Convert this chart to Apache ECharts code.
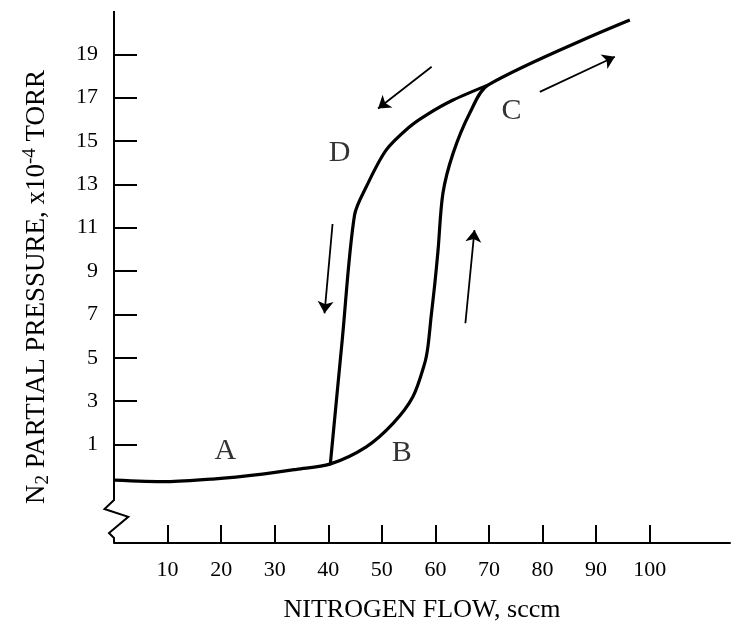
<!DOCTYPE html>
<html>
<head>
<meta charset="utf-8">
<title>N2 partial pressure vs nitrogen flow</title>
<script src="https://cdn.jsdelivr.net/npm/echarts@6/dist/echarts.min.js"></script>
<style>
  html, body { margin: 0; padding: 0; background: #fff; }
  #chart { width: 732px; height: 634px; }
</style>
</head>
<body>
<div id="chart"></div>
<script>
// ===== data (flow in sccm, pressure in 1e-4 torr) =====
var xTicks = [10, 20, 30, 40, 50, 60, 70, 80, 90, 100];
var yTicks = [1, 3, 5, 7, 9, 11, 13, 15, 17, 19];

// increasing flow: A -> B -> C and beyond
var risingFlow = [0, 9.8, 18.4, 27.7, 34.1, 40.3, 47.1, 52.1, 55.8, 58.0, 58.6, 59.2, 59.9, 60.5, 61.4, 63.3, 66.4, 69.8, 96.3];
var risingPres = [-0.65, -0.72, -0.6, -0.37, -0.15, 0.09, 0.89, 1.97, 3.2, 4.74, 5.5, 6.89, 8.43, 9.97, 12.58, 14.43, 16.28, 17.58, 20.58];

// decreasing flow: C -> D -> back to the lower branch
var fallingFlow = [69.8, 63.3, 58.3, 55.2, 50.8, 47.1, 44.9, 42.6, 40.4];
var fallingPres = [17.58, 16.89, 16.2, 15.66, 14.58, 12.89, 11.58, 5.8, 0.12];

// point letters
var letterNames = ['A', 'B', 'C', 'D'];
var letterFlow = [20.8, 53.7, 74.2, 42.1];
var letterPres = [0.71, 0.6, 16.4, 14.46];

// direction arrows [fromFlow, fromPres, toFlow, toPres]
var arrows = [
  [59.3, 18.43, 49.3, 16.5],
  [79.5, 17.27, 93.5, 18.89],
  [40.8, 11.17, 39.3, 7.05],
  [65.6, 6.59, 67.3, 10.89]
];

// y axis line with the break zigzag
var yAxisBreak = [[0, 21], [0, -1.57], [-1.77, -1.98], [2.67, -2.34], [-0.93, -3.09], [0, -3.32], [0, -3.55]];

function zip(a, b) {
  var out = [];
  for (var i = 0; i < a.length; i++) out.push([a[i], b[i]]);
  return out;
}

var FONT = '"Liberation Serif", "Times New Roman", serif';
var myChart = echarts.init(document.getElementById('chart'));

var option = {
  backgroundColor: '#fff',
  animation: false,
  grid: { left: 114, right: 2, top: 11, bottom: 91 },
  xAxis: {
    type: 'value',
    min: 0,
    max: 115,
    name: 'NITROGEN FLOW, sccm',
    nameLocation: 'middle',
    nameGap: 54,
    nameTextStyle: { fontFamily: FONT, fontSize: 26, color: '#000' },
    axisLine: { onZero: false, lineStyle: { color: '#000', width: 2 } },
    axisTick: { inside: true, length: 18, customValues: xTicks, lineStyle: { color: '#000', width: 2 } },
    axisLabel: { customValues: xTicks, margin: 16, fontFamily: FONT, fontSize: 22, color: '#000' },
    splitLine: { show: false }
  },
  yAxis: {
    type: 'value',
    min: -3.55,
    max: 21,
    name: '{t|N}{sub|2}{t| PARTIAL PRESSURE, x10}{sup|-4}{t| TORR}',
    nameLocation: 'middle',
    nameRotate: 90,
    nameGap: 61,
    nameTextStyle: {
      fontFamily: FONT, color: '#000',
      padding: [0, 20, 0, 0],
      rich: {
        t: { fontFamily: FONT, fontSize: 27, color: '#000', lineHeight: 32, verticalAlign: 'middle' },
        sub: { fontFamily: FONT, fontSize: 19, color: '#000', lineHeight: 18, verticalAlign: 'bottom' },
        sup: { fontFamily: FONT, fontSize: 19, color: '#000', lineHeight: 18, verticalAlign: 'top' }
      }
    },
    axisLine: { show: false },
    axisTick: { inside: true, length: 23, customValues: yTicks, lineStyle: { color: '#000', width: 2 } },
    axisLabel: { customValues: yTicks, margin: 16, fontFamily: FONT, fontSize: 22, color: '#000' },
    splitLine: { show: false }
  },
  series: [
    {
      name: 'y axis',
      type: 'custom',
      clip: false,
      silent: true,
      data: [0],
      renderItem: function (params, api) {
        var pts = yAxisBreak.map(function (p) { return api.coord(p); });
        return {
          type: 'polyline',
          shape: { points: pts },
          style: { stroke: '#000', lineWidth: 2, fill: null }
        };
      }
    },
    {
      name: 'rising',
      type: 'line',
      data: zip(risingFlow, risingPres),
      smooth: 0.3,
      symbol: 'none',
      lineStyle: { color: '#000', width: 3.2 }
    },
    {
      name: 'falling',
      type: 'line',
      data: zip(fallingFlow, fallingPres),
      smooth: 0.3,
      symbol: 'none',
      lineStyle: { color: '#000', width: 3.2 }
    },
    {
      name: 'arrows',
      type: 'lines',
      coordinateSystem: 'cartesian2d',
      symbol: ['none', 'arrow'],
      symbolSize: 12,
      lineStyle: { color: '#000', width: 1.8, opacity: 1 },
      data: arrows.map(function (a) { return { coords: [[a[0], a[1]], [a[2], a[3]]] }; })
    },
    {
      name: 'letters',
      type: 'scatter',
      symbolSize: 1,
      itemStyle: { color: 'rgba(0,0,0,0)' },
      label: {
        show: true,
        position: 'inside',
        formatter: function (p) { return letterNames[p.dataIndex]; },
        fontFamily: FONT, fontSize: 30, color: '#000'
      },
      data: zip(letterFlow, letterPres)
    }
  ]
};
myChart.setOption(option);
</script>
</body>
</html>
